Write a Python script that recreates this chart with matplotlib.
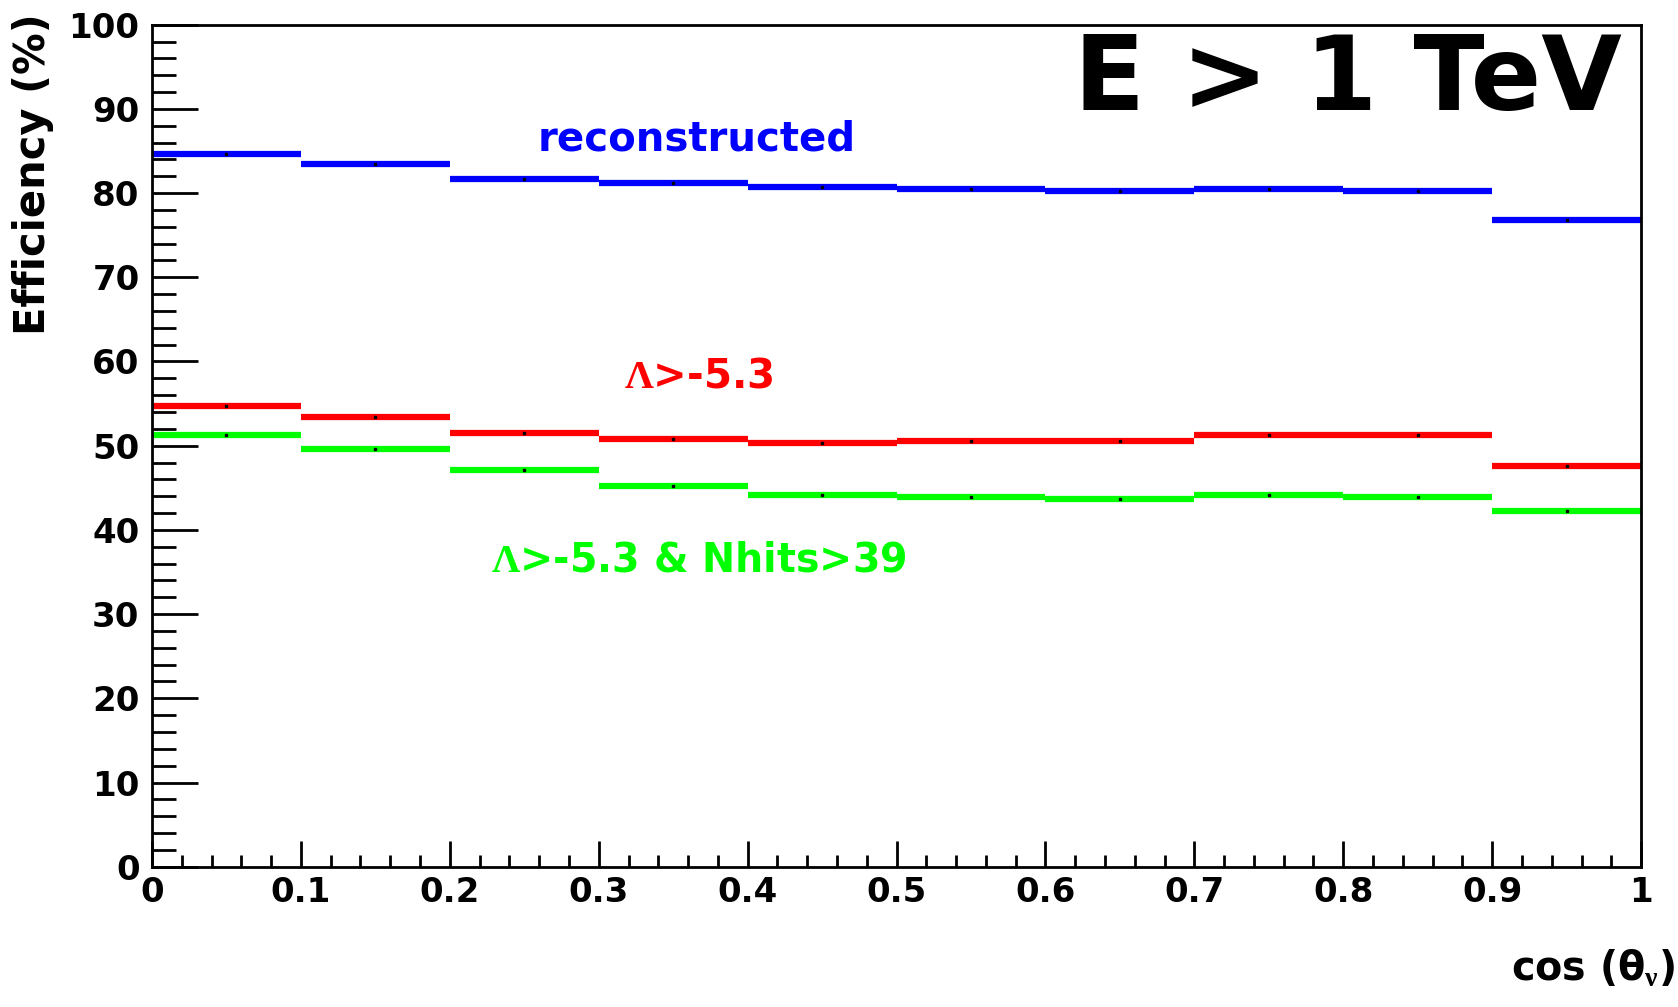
import numpy as np
import matplotlib.pyplot as plt

plt.rcParams['font.family'] = ['DejaVu Sans']
plt.rcParams['font.weight'] = 'bold'
plt.rcParams['mathtext.fontset'] = 'custom'
plt.rcParams['mathtext.rm'] = 'Liberation Serif:bold'
plt.rcParams['mathtext.bf'] = 'DejaVu Sans:bold'
plt.rcParams['mathtext.it'] = 'DejaVu Serif:italic'

# bins of cos(theta_nu)
edges = np.linspace(0, 1, 11)
centers = 0.5 * (edges[:-1] + edges[1:])

# efficiencies (%)
eff_reco = [84.6, 83.5, 81.7, 81.2, 80.7, 80.5, 80.2, 80.5, 80.2, 76.8]
eff_lambda = [54.7, 53.4, 51.5, 50.8, 50.3, 50.5, 50.5, 51.3, 51.3, 47.6]
eff_lambda_nhits = [51.3, 49.6, 47.1, 45.2, 44.2, 43.9, 43.7, 44.2, 43.9, 42.3]

fig = plt.figure(figsize=(16.78, 10.07), dpi=100)
ax = fig.add_axes([0.0906, 0.1393, 0.8874, 0.8362])

for vals, col in [(eff_reco, '#0000ff'), (eff_lambda, '#ff0000'), (eff_lambda_nhits, '#00ff00')]:
    ax.errorbar(centers, vals, xerr=0.05, fmt='none', ecolor=col, elinewidth=4.5)
    ax.plot(centers, vals, 's', color='black', markersize=1.6, linestyle='none')

ax.set_xlim(0, 1)
ax.set_ylim(0, 100)
ax.set_xticks(np.arange(0, 1.01, 0.1))
ax.set_xticklabels(['0', '0.1', '0.2', '0.3', '0.4', '0.5', '0.6', '0.7', '0.8', '0.9', '1'])
ax.set_xticks(np.arange(0, 1.001, 0.02), minor=True)
ax.set_yticks(np.arange(0, 101, 10))
ax.set_yticks(np.arange(0, 101, 2), minor=True)

ax.tick_params(axis='both', which='both', direction='in', labelsize=24.5, width=2, colors='black')
ax.tick_params(axis='x', which='major', length=19, pad=7)
ax.tick_params(axis='x', which='minor', length=9)
ax.tick_params(axis='y', which='major', length=33, pad=9)
ax.tick_params(axis='y', which='minor', length=17)
for s in ax.spines.values():
    s.set_linewidth(2)

ax.set_ylabel('Efficiency (%)', fontsize=30, fontweight='bold', loc='top')
ax.yaxis.set_label_coords(-0.066, 1.014)
ax.set_xlabel(r'cos ($\mathbf{\theta}_{\mathrm{\nu}}$)', fontsize=28.5, fontweight='bold', loc='right')
ax.xaxis.set_label_coords(1.023, -0.097)

ax.text(0.366, 86.4, 'reconstructed', color='#0000ff', fontsize=29, fontweight='bold',
        ha='center', va='center')
ax.text(0.367, 58.2, r'$\mathrm{\Lambda}$>-5.3', color='#ff0000', fontsize=29, fontweight='bold',
        ha='center', va='center')
ax.text(0.367, 36.4, r'$\mathrm{\Lambda}$>-5.3 & Nhits>39', color='#00ff00', fontsize=28.5,
        fontweight='bold', ha='center', va='center')
ax.text(0.803, 93.2, 'E > 1 TeV', color='black', fontsize=75, fontweight='bold',
        ha='center', va='center')

fig.savefig('out.png', dpi=100)
